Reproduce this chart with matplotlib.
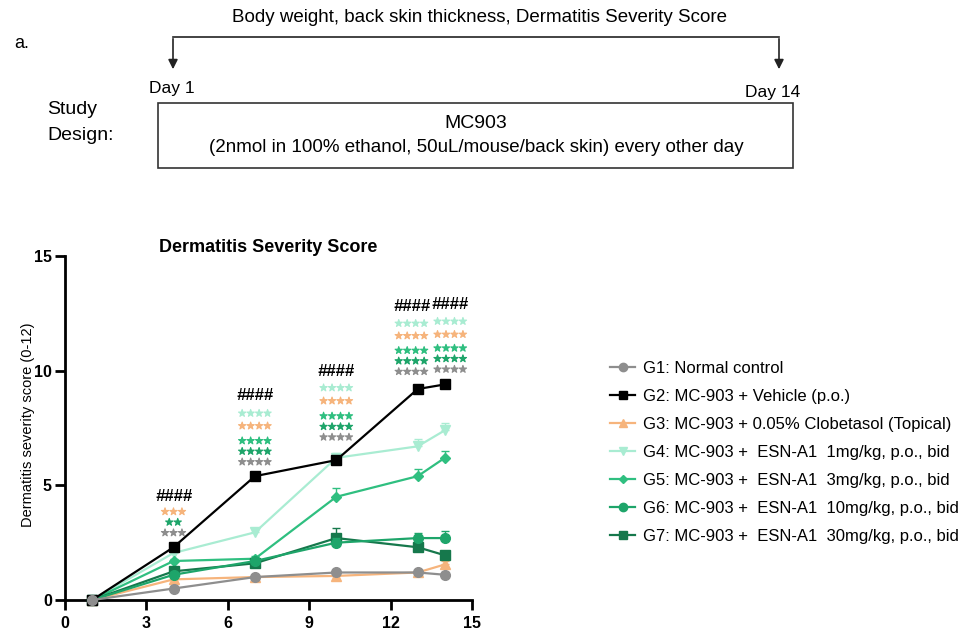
import numpy as np
import matplotlib
matplotlib.use('Agg')
import matplotlib.pyplot as plt
import matplotlib.patheffects as pe
from matplotlib.lines import Line2D

plt.rcParams['font.family'] = ['Liberation Sans', 'DejaVu Sans']

# --- data ---
days = [1, 4, 7, 10, 13, 14]
labels = ['G1: Normal control',
          'G2: MC-903 + Vehicle (p.o.)',
          'G3: MC-903 + 0.05% Clobetasol (Topical)',
          'G4: MC-903 +  ESN-A1  1mg/kg, p.o., bid',
          'G5: MC-903 +  ESN-A1  3mg/kg, p.o., bid',
          'G6: MC-903 +  ESN-A1  10mg/kg, p.o., bid',
          'G7: MC-903 +  ESN-A1  30mg/kg, p.o., bid']
g1 = [0, 0.5, 1.0, 1.2, 1.2, 1.1]
g2 = [0, 2.3, 5.4, 6.1, 9.2, 9.4]
g3 = [0, 0.9, 1.0, 1.05, 1.2, 1.55]
g4 = [0, 2.05, 2.95, 6.2, 6.7, 7.4]
g5 = [0, 1.7, 1.8, 4.5, 5.4, 6.2]
g6 = [0, 1.1, 1.7, 2.5, 2.7, 2.7]
g7 = [0, 1.25, 1.6, 2.7, 2.3, 1.95]
g1_err = [0, 0.1, 0.1, 0.1, 0.1, 0.1]
g2_err = [0, 0.1, 0.15, 0.2, 0.15, 0.1]
g3_err = [0, 0.1, 0.1, 0.1, 0.1, 0.15]
g4_err = [0, 0.1, 0.2, 0.2, 0.3, 0.3]
g5_err = [0, 0.1, 0.1, 0.4, 0.3, 0.3]
g6_err = [0, 0.1, 0.1, 0.2, 0.2, 0.3]
g7_err = [0, 0.1, 0.1, 0.45, 0.2, 0.2]

# significance marks above each time point
sig_x = [4, 7, 10, 12.77, 14.2]
hash_y = [4.51, 8.92, 9.97, 12.8, 12.88]
star_text = [['★★★', '★★', '★★★'],
             ['★★★★', '★★★★', '★★★★', '★★★★', '★★★★'],
             ['★★★★', '★★★★', '★★★★', '★★★★', '★★★★'],
             ['★★★★', '★★★★', '★★★★', '★★★★', '★★★★'],
             ['★★★★', '★★★★', '★★★★', '★★★★', '★★★★']]
star_y = [[3.83, 3.37, 2.91],
          [8.12, 7.57, 6.92, 6.46, 6.0],
          [9.23, 8.66, 8.0, 7.54, 7.08],
          [12.04, 11.5, 10.86, 10.4, 9.94],
          [12.13, 11.56, 10.96, 10.5, 10.04]]

colors = ['#8e8e8e', '#000000', '#f6b47c', '#a9ecd2', '#2fbf80', '#1ea56a', '#16784c']
markers = ['o', 's', '^', 'v', 'D', 'o', 's']
msizes = [7, 7, 7, 7, 5, 7, 7]

W, H = 970, 643
fig = plt.figure(figsize=(W / 100, H / 100), dpi=100)

# study design sketch on top, drawn in pixel coordinates
top = fig.add_axes([0, 0, 1, 1])
top.set_xlim(0, W)
top.set_ylim(H, 0)
top.axis('off')
top.text(14, 43, 'a.', fontsize=13, va='center')
top.text(480, 17, 'Body weight, back skin thickness, Dermatitis Severity Score',
         fontsize=13.5, ha='center', va='center')
top.plot([173, 779], [37, 37], color='#222222', lw=1.2)
top.annotate('', xy=(173, 72), xytext=(173, 36),
             arrowprops=dict(arrowstyle='-|>', color='#222222', lw=1.2,
                             mutation_scale=14))
top.annotate('', xy=(779, 72), xytext=(779, 36),
             arrowprops=dict(arrowstyle='-|>', color='#222222', lw=1.2,
                             mutation_scale=14))
top.text(149, 88, 'Day 1', fontsize=12.5, va='center')
top.text(745, 92, 'Day 14', fontsize=12.5, va='center')
top.text(47, 110, 'Study', fontsize=14, va='center')
top.text(47, 136, 'Design:', fontsize=14, va='center')
top.add_patch(plt.Rectangle((158, 103), 635, 65, fill=False, ec='#333333', lw=1.2))
top.text(476, 123, 'MC903', fontsize=14, ha='center', va='center')
top.text(476, 148, '(2nmol in 100% ethanol, 50uL/mouse/back skin) every other day',
         fontsize=13.5, ha='center', va='center')

# main chart
x0, x1, y0, y1 = 65, 472, 600, 256
ax = fig.add_axes([x0 / W, 1 - y0 / H, (x1 - x0) / W, (y0 - y1) / H])
series = [g1, g2, g3, g4, g5, g6, g7]
errs = [g1_err, g2_err, g3_err, g4_err, g5_err, g6_err, g7_err]
draw_order = [3, 4, 2, 6, 5, 1, 0]
for n, i in enumerate(draw_order):
    ax.errorbar(days, series[i], yerr=[np.zeros(len(days)), errs[i]],
                color=colors[i], marker=markers[i], markersize=msizes[i],
                lw=1.6, elinewidth=1.0, capsize=3, clip_on=False, zorder=3 + n)

ax.set_xlim(0, 15)
ax.set_ylim(0, 15)
ax.set_xticks([0, 3, 6, 9, 12, 15])
ax.set_yticks([0, 5, 10, 15])
ax.spines['top'].set_visible(False)
ax.spines['right'].set_visible(False)
ax.spines['left'].set_linewidth(2)
ax.spines['bottom'].set_linewidth(2)
ax.tick_params(width=2, length=7.5, labelsize=11.5)
ax.tick_params(axis='y', pad=2)
ax.tick_params(axis='x', pad=4)
for t in ax.get_xticklabels() + ax.get_yticklabels():
    t.set_fontweight('bold')
ax.set_title('Dermatitis Severity Score', fontsize=13, fontweight='bold', pad=3)
fig.text(28 / W, 1 - 425 / H, 'Dermatitis severity score (0-12)', rotation=90,
         fontsize=10.5, ha='center', va='center')

row_colors = [colors[3], colors[2], colors[4], colors[5], colors[0]]
day4_colors = [colors[2], colors[5], colors[0]]
for k in range(len(sig_x)):
    ax.text(sig_x[k], hash_y[k], '####', color='black', fontsize=12,
            fontweight='bold', fontstyle='italic', ha='center', va='center')
    cols = day4_colors if k == 0 else row_colors
    for j, r in enumerate(star_text[k]):
        ax.text(sig_x[k], star_y[k][j], r, color=cols[j], fontsize=6.8,
                family='DejaVu Sans', ha='center', va='center',
                path_effects=[pe.withStroke(linewidth=0.8, foreground=cols[j])])

handles = [Line2D([], [], color=colors[i], marker=markers[i],
                  markersize=msizes[i] - 1, lw=1.6) for i in range(7)]
leg = fig.legend(handles, labels, loc='upper left',
                 bbox_to_anchor=(595 / W, 1 - 346 / H), frameon=False,
                 fontsize=12, handlelength=1.5, labelspacing=0.78,
                 handletextpad=0.5)

fig.savefig('out.png', dpi=100)
